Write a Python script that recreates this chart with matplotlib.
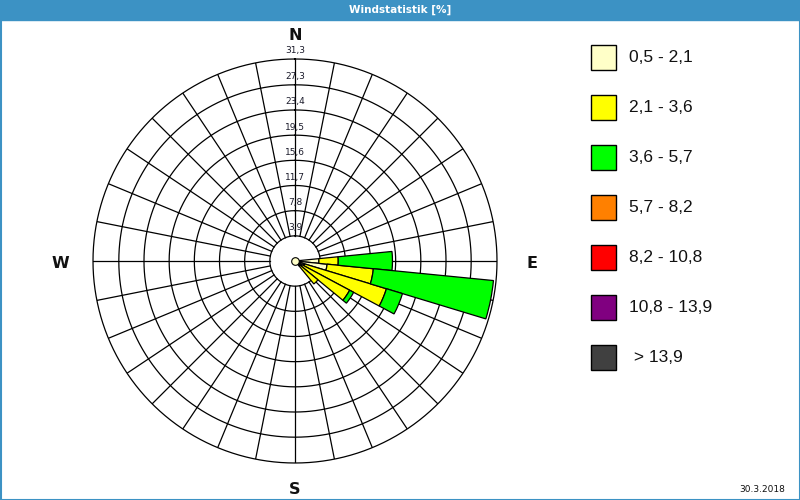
import numpy as np
import matplotlib.pyplot as plt
from matplotlib.patches import Rectangle

# wind directions (deg, compass, 32 sectors) that carry data
directions = [90.0, 101.25, 112.5, 123.75, 135.0]

# frequency (%) per speed class, one value per direction
speed_05_21 = [3.7, 5.0, 1.5, 1.2, 1.0]
speed_21_36 = [3.0, 7.2, 13.3, 8.4, 3.6]
speed_36_57 = [8.4, 18.7, 2.6, 0.7, 0.0]

class_labels = ['0,5 - 2,1', '2,1 - 3,6', '3,6 - 5,7', '5,7 - 8,2',
                '8,2 - 10,8', '10,8 - 13,9', ' > 13,9']
class_colors = ['#ffffc8', '#ffff00', '#00ff00', '#ff8000',
                '#ff0000', '#800080', '#404040']

ring_values = [3.9, 7.8, 11.7, 15.6, 19.5, 23.4, 27.3, 31.3]
ring_labels = ['3,9', '7,8', '11,7', '15,6', '19,5', '23,4', '27,3', '31,3']

n_sectors = 32
blue = '#3c92c4'

fig = plt.figure(figsize=(8, 5), dpi=100)

# background / frame in pixel coordinates
bg = fig.add_axes([0, 0, 1, 1])
bg.set_xlim(0, 800)
bg.set_ylim(500, 0)
bg.axis('off')
bg.add_patch(Rectangle((0, 0), 800, 20, color=blue))
bg.add_patch(Rectangle((0.5, 0.5), 799, 499, fill=False, ec=blue, lw=1.5))
bg.text(400, 10, 'Windstatistik [%]', color='white', ha='center', va='center',
        fontsize=7.5, fontweight='bold')
bg.text(785, 490, '30.3.2018', ha='right', va='center', fontsize=6.5, color='#111111')

# legend
for i, (lab, col) in enumerate(zip(class_labels, class_colors)):
    y = 45 + 50 * i
    bg.add_patch(Rectangle((590.5, y), 25, 25, fc=col, ec='black', lw=1))
    bg.text(629, y + 13, lab, va='center', ha='left', fontsize=12.5,
            family='Liberation Sans', color='#111111')

# polar rose
ax = fig.add_axes([0.11625, 0.074, 0.505, 0.808], projection='polar')
ax.set_theta_zero_location('N')
ax.set_theta_direction(-1)
ax.set_ylim(0, ring_values[-1])
ax.grid(False)
ax.spines['polar'].set_visible(False)
ax.set_xticks([])
ax.set_yticks([])

circle = np.linspace(0, 2 * np.pi, 721)
for r in ring_values:
    ax.plot(circle, np.full_like(circle, r), color='black', lw=0.9, zorder=1, clip_on=False)
for k in range(n_sectors):
    th = 2 * np.pi * k / n_sectors
    ax.plot([th, th], [ring_values[0], ring_values[-1]], color='black', lw=0.9, zorder=1)

theta = np.deg2rad(directions)
width = 2 * np.pi / n_sectors
bottom = np.zeros(len(directions))
for vals, col in zip([speed_05_21, speed_21_36, speed_36_57], class_colors):
    vals = np.array(vals)
    mask = vals > 0
    ax.bar(theta[mask], vals[mask], width=width, bottom=bottom[mask], color=col,
           edgecolor='black', lw=0.9, zorder=2)
    bottom = bottom + vals

ax.plot(0, 0, 'o', ms=5.5, mfc='#ffffc8', mec='black', mew=0.8, zorder=3, clip_on=False)

for r, lab in zip(ring_values, ring_labels):
    ax.annotate(lab, xy=(0, r), xytext=(0, 8), textcoords='offset pixels',
                ha='center', va='center', fontsize=6.5, color='#1a1a2a')

compass = [('N', 0, (0, 24)), ('E', 90, (35, -3)), ('S', 180, (0, -26)), ('W', 270, (-33, -3))]
for lab, d, off in compass:
    ax.annotate(lab, xy=(np.deg2rad(d), ring_values[-1]), xytext=off,
                textcoords='offset pixels', ha='center', va='center',
                fontsize=11.5, fontweight='bold', color='#111111', annotation_clip=False)

fig.savefig('out.png', dpi=100)
